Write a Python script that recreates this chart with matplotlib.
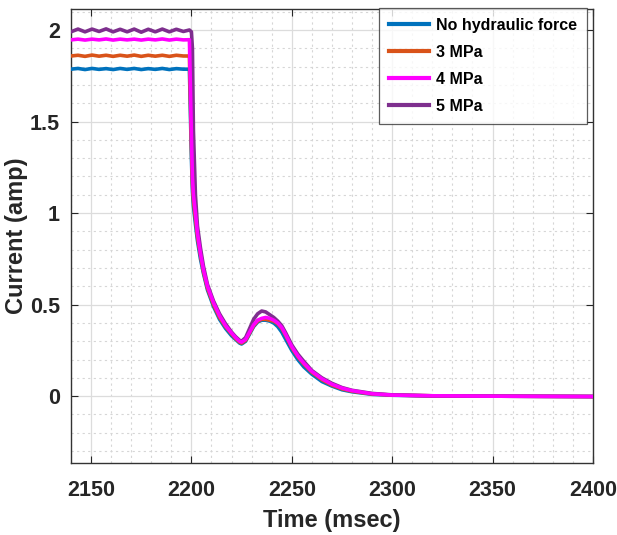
import matplotlib
matplotlib.use('Agg')
import matplotlib.pyplot as plt
from matplotlib.ticker import MultipleLocator

# steady part before switch-off
t_hold = [2140, 2143.5, 2147, 2150.5, 2154, 2157.5, 2161, 2164.5, 2168, 2171.5,
          2175, 2178.5, 2182, 2185.5, 2189, 2192.5, 2196, 2199]
blue_hold = [1.786, 1.79, 1.784, 1.79, 1.785, 1.789, 1.784, 1.79, 1.785, 1.79,
             1.784, 1.789, 1.785, 1.79, 1.784, 1.789, 1.786, 1.786]
orange_hold = [1.858, 1.862, 1.856, 1.863, 1.857, 1.862, 1.856, 1.862, 1.857, 1.863,
               1.856, 1.862, 1.857, 1.862, 1.856, 1.862, 1.858, 1.858]
magenta_hold = [1.946, 1.95, 1.945, 1.95, 1.946, 1.951, 1.945, 1.95, 1.946, 1.95,
                1.945, 1.95, 1.946, 1.951, 1.945, 1.95, 1.946, 1.947]
purple_hold = [1.99, 2.005, 1.99, 2.005, 1.992, 2.006, 1.99, 2.004, 1.99, 2.005,
               1.988, 2.004, 1.99, 2.005, 1.99, 2.004, 1.992, 2.0]

# transient after switch-off
t_fall = [2200, 2200.5, 2201, 2202, 2203, 2204.5, 2206, 2208, 2211, 2214, 2217,
          2220, 2222, 2224, 2225, 2227, 2229, 2231, 2233, 2235, 2237, 2239, 2241,
          2243, 2245, 2247, 2250, 2253, 2256, 2260, 2265, 2270, 2275, 2280, 2290,
          2300, 2320, 2350, 2400]
blue_fall = [1.30, 1.12, 1.04, 0.94, 0.85, 0.75, 0.67, 0.58, 0.49, 0.42, 0.37,
             0.33, 0.31, 0.29, 0.285, 0.30, 0.34, 0.38, 0.405, 0.415, 0.415, 0.41, 0.40,
             0.38, 0.35, 0.31, 0.25, 0.20, 0.16, 0.12, 0.08, 0.055, 0.035, 0.024, 0.010,
             0.005, 0.001, 0.0, -0.002]
orange_fall = [1.36, 1.16, 1.07, 0.97, 0.87, 0.77, 0.68, 0.59, 0.50, 0.43, 0.38,
               0.34, 0.315, 0.295, 0.29, 0.305, 0.345, 0.385, 0.41, 0.42, 0.42, 0.415, 0.41,
               0.395, 0.37, 0.33, 0.265, 0.215, 0.175, 0.13, 0.09, 0.06, 0.04, 0.027, 0.012,
               0.006, 0.002, 0.0, -0.002]
magenta_fall = [1.42, 1.20, 1.10, 1.00, 0.89, 0.78, 0.69, 0.60, 0.51, 0.44, 0.385,
                0.345, 0.32, 0.30, 0.295, 0.31, 0.35, 0.39, 0.415, 0.425, 0.43, 0.425, 0.415,
                0.40, 0.375, 0.335, 0.27, 0.22, 0.18, 0.135, 0.095, 0.065, 0.044, 0.03, 0.013,
                0.006, 0.002, 0.0, -0.002]
purple_fall = [1.99, 1.90, 1.45, 1.10, 0.93, 0.81, 0.71, 0.61, 0.52, 0.45, 0.395,
               0.35, 0.325, 0.305, 0.30, 0.32, 0.37, 0.42, 0.45, 0.465, 0.46, 0.445, 0.43,
               0.41, 0.385, 0.345, 0.28, 0.23, 0.19, 0.14, 0.10, 0.07, 0.047, 0.032, 0.015,
               0.007, 0.002, 0.0, -0.002]

labels = ['No hydraulic force', '3 MPa', '4 MPa', '5 MPa']
colors = ['#0072BD', '#D95319', '#FF00FF', '#7E2F8E']

t = t_hold + t_fall
series = [blue_hold + blue_fall, orange_hold + orange_fall,
          magenta_hold + magenta_fall, purple_hold + purple_fall]
zorders = [3, 4, 6, 5]

plt.rcParams['font.family'] = ['Liberation Sans', 'DejaVu Sans']
plt.rcParams['font.weight'] = 'bold'
txt = '#262626'

fig = plt.figure(figsize=(6.17, 5.35), dpi=100)
ax = fig.add_axes([0.115, 0.1346, 0.846, 0.848])

for y, lab, c, z in zip(series, labels, colors, zorders):
    ax.plot(t, y, color=c, lw=2.6, label=lab, zorder=z)

ax.set_xlim(2140, 2400)
ax.set_ylim(-0.365, 2.113)
ax.xaxis.set_major_locator(MultipleLocator(50))
ax.xaxis.set_minor_locator(MultipleLocator(10))
ax.yaxis.set_major_locator(MultipleLocator(0.5))
ax.yaxis.set_minor_locator(MultipleLocator(0.1))
ax.set_yticks([0, 0.5, 1, 1.5, 2])
ax.set_yticklabels(['0', '0.5', '1', '1.5', '2'])

ax.grid(which='major', color='#dcdcdc', lw=0.9, ls='-')
ax.grid(which='minor', color='#d6d6d6', lw=0.8, ls=(0, (2, 3)))
ax.set_axisbelow(True)

ax.tick_params(which='both', direction='in', top=True, right=True, colors=txt,
               labelsize=15.5)
ax.tick_params(axis='x', which='major', length=5, pad=12)
ax.tick_params(axis='y', which='major', length=5, pad=8)
ax.tick_params(which='minor', length=0)
for s in ax.spines.values():
    s.set_color('#333333')
    s.set_linewidth(1.0)

ax.set_xlabel('Time (msec)', fontsize=17, fontweight='bold', color=txt, labelpad=6)
ax.set_ylabel('Current (amp)', fontsize=17, fontweight='bold', color=txt)
ax.yaxis.set_label_coords(-0.083, 0.5)

leg = ax.legend(loc='upper right', bbox_to_anchor=(0.988, 1.002), fontsize=11.5,
                frameon=True, fancybox=False, handlelength=2.5, borderpad=0.6,
                labelspacing=0.75, handletextpad=0.45, borderaxespad=0)
leg.get_frame().set_edgecolor('#333333')
leg.get_frame().set_linewidth(0.9)
for line in leg.get_lines():
    line.set_linewidth(3)
for text in leg.get_texts():
    text.set_color('black')

fig.savefig('out.png', dpi=100)
